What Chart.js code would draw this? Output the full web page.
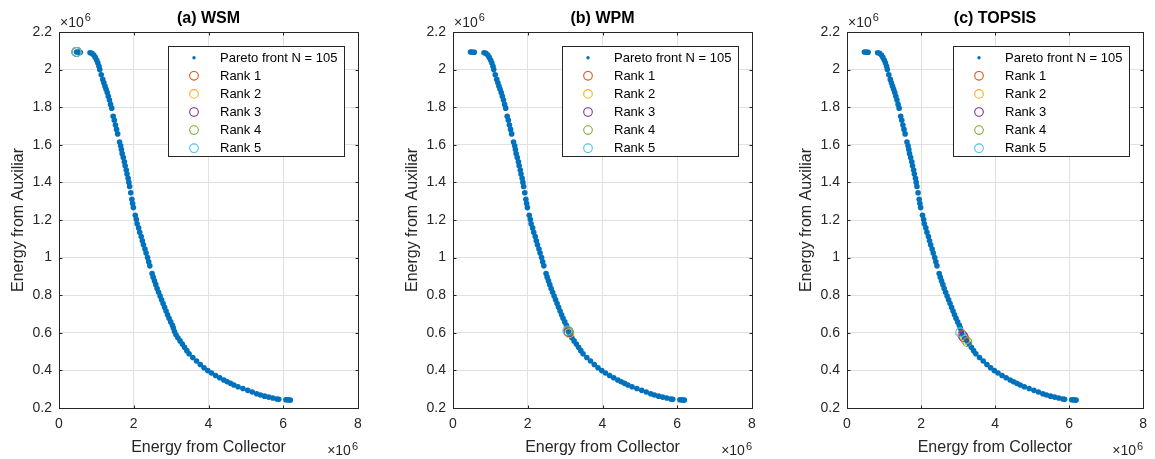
<!DOCTYPE html>
<html>
<head>
<meta charset="utf-8">
<title>Pareto front ranking: WSM, WPM, TOPSIS</title>
<script src="https://cdn.jsdelivr.net/npm/chart.js@4.4.1/dist/chart.umd.min.js"></script>
<style>
  html, body { margin: 0; padding: 0; background: #fff; overflow: hidden; }
  #wrap { position: relative; width: 1155px; height: 459px; }
  .panel { position: absolute; top: 0; height: 459px; }
  canvas { display: block; }
</style>
</head>
<body>
<div id="wrap">
  <div class="panel" style="left:0px"><canvas id="panelA" width="394" height="459"></canvas></div>
  <div class="panel" style="left:394px"><canvas id="panelB" width="394" height="459"></canvas></div>
  <div class="panel" style="left:788px"><canvas id="panelC" width="367" height="459"></canvas></div>
</div>
<script>
// Pareto front (both objectives in units of 10^6)
const collectorE6 = [
  0.47, 0.52, 0.57, 0.83, 0.88, 0.93,
  0.97, 1.01, 1.04, 1.07, 1.09, 1.13, 1.17, 1.20, 1.23, 1.26,
  1.29, 1.32, 1.35, 1.38, 1.41, 1.45, 1.48, 1.51, 1.54, 1.57,
  1.62, 1.65, 1.67, 1.69, 1.72, 1.75, 1.77, 1.80, 1.82, 1.85,
  1.87, 1.89, 1.92, 1.95, 1.97, 1.99, 2.04, 2.07, 2.09, 2.13,
  2.16, 2.20, 2.23, 2.26, 2.30, 2.33, 2.37, 2.40, 2.43, 2.49,
  2.52, 2.555, 2.59, 2.625, 2.665, 2.705, 2.745, 2.785, 2.825, 2.865,
  2.905, 2.945, 2.99, 3.035,
  3.06, 3.09, 3.13, 3.18, 3.24, 3.30, 3.36, 3.42, 3.48, 3.58,
  3.68, 3.78, 3.88, 3.98, 4.08, 4.19, 4.30, 4.41, 4.50, 4.59,
  4.68, 4.79, 4.92, 5.05, 5.17, 5.29, 5.39, 5.50, 5.61, 5.72,
  5.83, 5.88, 6.07, 6.13, 6.19
];
const auxiliarE6 = [
  2.094, 2.093, 2.092, 2.090, 2.087, 2.078,
  2.065, 2.050, 2.035, 2.018, 2.000, 1.972, 1.948, 1.930, 1.912, 1.895,
  1.878, 1.858, 1.838, 1.815, 1.795, 1.752, 1.730, 1.705, 1.682, 1.658,
  1.615, 1.595, 1.575, 1.553, 1.532, 1.510, 1.488, 1.466, 1.445, 1.422,
  1.400, 1.378, 1.345, 1.310, 1.288, 1.266, 1.225, 1.202, 1.180, 1.158,
  1.135, 1.112, 1.090, 1.068, 1.046, 1.024, 1.000, 0.978, 0.956, 0.915,
  0.896, 0.876, 0.856, 0.836, 0.816, 0.796, 0.776, 0.756, 0.736, 0.716,
  0.696, 0.677, 0.658, 0.640,
  0.625, 0.607, 0.590, 0.574, 0.557, 0.540, 0.523, 0.505, 0.488, 0.469,
  0.450, 0.431, 0.414, 0.399, 0.386, 0.373, 0.361, 0.349, 0.340, 0.331,
  0.322, 0.313, 0.304, 0.294, 0.285, 0.276, 0.269, 0.263, 0.258, 0.253,
  0.248, 0.246, 0.244, 0.243, 0.242
];

// Top five ranked solutions for each decision method (Rank 1 .. Rank 5)
const rankLabels = ['Rank 1', 'Rank 2', 'Rank 3', 'Rank 4', 'Rank 5'];
const wsmRankX    = [0.47, 0.47, 0.47, 0.47, 0.47];
const wsmRankY    = [2.094, 2.094, 2.094, 2.094, 2.094];
const wpmRankX    = [3.09, 3.11, 3.09, 3.08, 3.06];
const wpmRankY    = [0.605, 0.598, 0.606, 0.607, 0.612];
const topsisRankX = [3.12, 3.20, 3.15, 3.25, 3.06];
const topsisRankY = [0.588, 0.563, 0.578, 0.551, 0.602];

const paretoLabel = 'Pareto front N = 105';
const panelTitles = ['(a) WSM', '(b) WPM', '(c) TOPSIS'];
const xTitle = 'Energy from Collector';
const yTitle = 'Energy from Auxiliar';
const xTickValues = [0, 2, 4, 6, 8];
const xTickLabels = ['0', '2', '4', '6', '8'];
const yTickValues = [0.2, 0.4, 0.6, 0.8, 1.0, 1.2, 1.4, 1.6, 1.8, 2.0, 2.2];
const yTickLabels = ['0.2', '0.4', '0.6', '0.8', '1', '1.2', '1.4', '1.6', '1.8', '2', '2.2'];

// Styles
const FONT = '"Liberation Sans", Arial, Helvetica, sans-serif';
const AXIS_INK = '#262626';
const PARETO_COLOR = '#0072BD';
const RANK_COLORS = ['#D95319', '#EDB120', '#7E2F8E', '#77AC30', '#4DBEEE'];

Chart.defaults.font.family = FONT;
Chart.defaults.color = AXIS_INK;

// Title above the plot box
const titlePlugin = {
  id: 'panelTitle',
  afterDraw(chart, args, opts) {
    const ca = chart.chartArea, ctx = chart.ctx;
    ctx.save();
    ctx.font = 'bold 16px ' + FONT;
    ctx.fillStyle = '#000';
    ctx.textAlign = 'center';
    ctx.textBaseline = 'alphabetic';
    ctx.fillText(opts.text, (ca.left + ca.right) / 2, 23);
    ctx.restore();
  }
};

// Closed box with inward tick marks on all four sides
const boxPlugin = {
  id: 'boxAxes',
  afterDatasetsDraw(chart) {
    const { left, right, top, bottom } = chart.chartArea;
    const ctx = chart.ctx, xs = chart.scales.x, ys = chart.scales.y;
    const L = Math.round(left) + 0.5, R = Math.round(right) + 0.5;
    const T = Math.round(top) + 0.5, B = Math.round(bottom) + 0.5;
    ctx.save();
    ctx.strokeStyle = AXIS_INK;
    ctx.lineWidth = 1;
    ctx.beginPath();
    xs.ticks.forEach(t => {
      const p = Math.round(xs.getPixelForValue(t.value)) + 0.5;
      ctx.moveTo(p, B); ctx.lineTo(p, B - 3);
      ctx.moveTo(p, T); ctx.lineTo(p, T + 3);
    });
    ys.ticks.forEach(t => {
      const p = Math.round(ys.getPixelForValue(t.value)) + 0.5;
      ctx.moveTo(L, p); ctx.lineTo(L + 3, p);
      ctx.moveTo(R, p); ctx.lineTo(R - 3, p);
    });
    ctx.stroke();
    ctx.strokeRect(L, T, R - L, B - T);
    ctx.restore();
  }
};

// "x10^6" exponent labels for both axes
const exponentPlugin = {
  id: 'exponent',
  afterDraw(chart) {
    const ca = chart.chartArea, ctx = chart.ctx;
    ctx.save();
    ctx.fillStyle = AXIS_INK;
    ctx.textBaseline = 'alphabetic';
    ctx.textAlign = 'left';
    ctx.font = '14px ' + FONT;
    const base = '\u00D710';
    const wb = ctx.measureText(base).width;
    ctx.fillText(base, ca.left + 1, 27);
    ctx.font = '11px ' + FONT;
    ctx.fillText('6', ca.left + 2 + wb, 20.5);
    const w6 = ctx.measureText('6').width;
    ctx.fillText('6', ca.right - w6, 450);
    ctx.font = '14px ' + FONT;
    ctx.fillText(base, ca.right - w6 - 1 - wb, 455);
    ctx.restore();
  }
};

// Boxed legend in the upper right of the plot
const legendPlugin = {
  id: 'boxLegend',
  afterDraw(chart) {
    const ca = chart.chartArea, ctx = chart.ctx;
    const w = 176, h = 110;
    const x0 = Math.round(ca.right - 14 - w), y0 = Math.round(ca.top + 14);
    ctx.save();
    ctx.fillStyle = '#fff';
    ctx.fillRect(x0, y0, w, h);
    ctx.strokeStyle = AXIS_INK;
    ctx.lineWidth = 1;
    ctx.strokeRect(x0 + 0.5, y0 + 0.5, w, h);
    ctx.font = '13px ' + FONT;
    ctx.textAlign = 'left';
    ctx.textBaseline = 'middle';
    chart.data.datasets.forEach((ds, i) => {
      const cy = y0 + 11.7 + i * 18.1;
      const mx = x0 + 26;
      ctx.beginPath();
      if (i === 0) {
        ctx.arc(mx, cy, 1.7, 0, Math.PI * 2);
        ctx.fillStyle = ds.backgroundColor;
        ctx.fill();
      } else {
        ctx.arc(mx, cy, 4.3, 0, Math.PI * 2);
        ctx.strokeStyle = ds.borderColor;
        ctx.lineWidth = 1.1;
        ctx.stroke();
      }
      ctx.fillStyle = '#000';
      ctx.fillText(ds.label, x0 + 52, cy + 0.5);
    });
    ctx.restore();
  }
};

function buildDatasets(rankX, rankY) {
  const sets = [{
    label: paretoLabel,
    data: collectorE6.map((x, i) => ({ x: x, y: auxiliarE6[i] })),
    pointRadius: 2.8,
    pointBorderWidth: 0,
    backgroundColor: PARETO_COLOR,
    borderColor: PARETO_COLOR,
    order: 10
  }];
  rankLabels.forEach((lab, k) => {
    sets.push({
      label: lab,
      data: [{ x: rankX[k], y: rankY[k] }],
      pointRadius: 4.5,
      pointBorderWidth: 1.1,
      backgroundColor: 'rgba(0,0,0,0)',
      borderColor: RANK_COLORS[k],
      order: 5 - k
    });
  });
  return sets;
}

function makePanel(canvasId, title, rankX, rankY, padRight) {
  return new Chart(document.getElementById(canvasId), {
    type: 'scatter',
    data: { datasets: buildDatasets(rankX, rankY) },
    plugins: [titlePlugin, boxPlugin, exponentPlugin, legendPlugin],
    options: {
      responsive: false,
      animation: false,
      events: [],
      layout: { padding: { left: 0, right: padRight, top: 32, bottom: 0 } },
      plugins: {
        legend: { display: false },
        tooltip: { enabled: false },
        panelTitle: { text: title }
      },
      scales: {
        x: {
          type: 'linear',
          min: 0, max: 8,
          afterBuildTicks: s => { s.ticks = xTickValues.map(v => ({ value: v })); },
          afterFit: s => { s.height = 51; },
          grid: { color: '#e1e1e1', lineWidth: 1, drawTicks: false },
          border: { display: false },
          ticks: {
            padding: 8,
            font: { size: 14 },
            color: AXIS_INK,
            maxRotation: 0,
            callback: (v, i) => xTickLabels[i]
          },
          title: {
            display: true,
            text: xTitle,
            color: AXIS_INK,
            font: { size: 16 },
            padding: { top: 0, bottom: 1.4 }
          }
        },
        y: {
          type: 'linear',
          min: 0.2, max: 2.2,
          afterBuildTicks: s => { s.ticks = yTickValues.map(v => ({ value: v })); },
          afterFit: s => { s.width = 59; },
          grid: { color: '#e1e1e1', lineWidth: 1, drawTicks: false },
          border: { display: false },
          ticks: {
            padding: 7,
            font: { size: 14 },
            color: AXIS_INK,
            callback: (v, i) => yTickLabels[i]
          },
          title: {
            display: true,
            text: yTitle,
            color: AXIS_INK,
            font: { size: 16 },
            padding: { top: 9.4, bottom: 0 }
          }
        }
      }
    }
  });
}

makePanel('panelA', panelTitles[0], wsmRankX, wsmRankY, 36);
makePanel('panelB', panelTitles[1], wpmRankX, wpmRankY, 36);
makePanel('panelC', panelTitles[2], topsisRankX, topsisRankY, 8);
</script>
</body>
</html>
